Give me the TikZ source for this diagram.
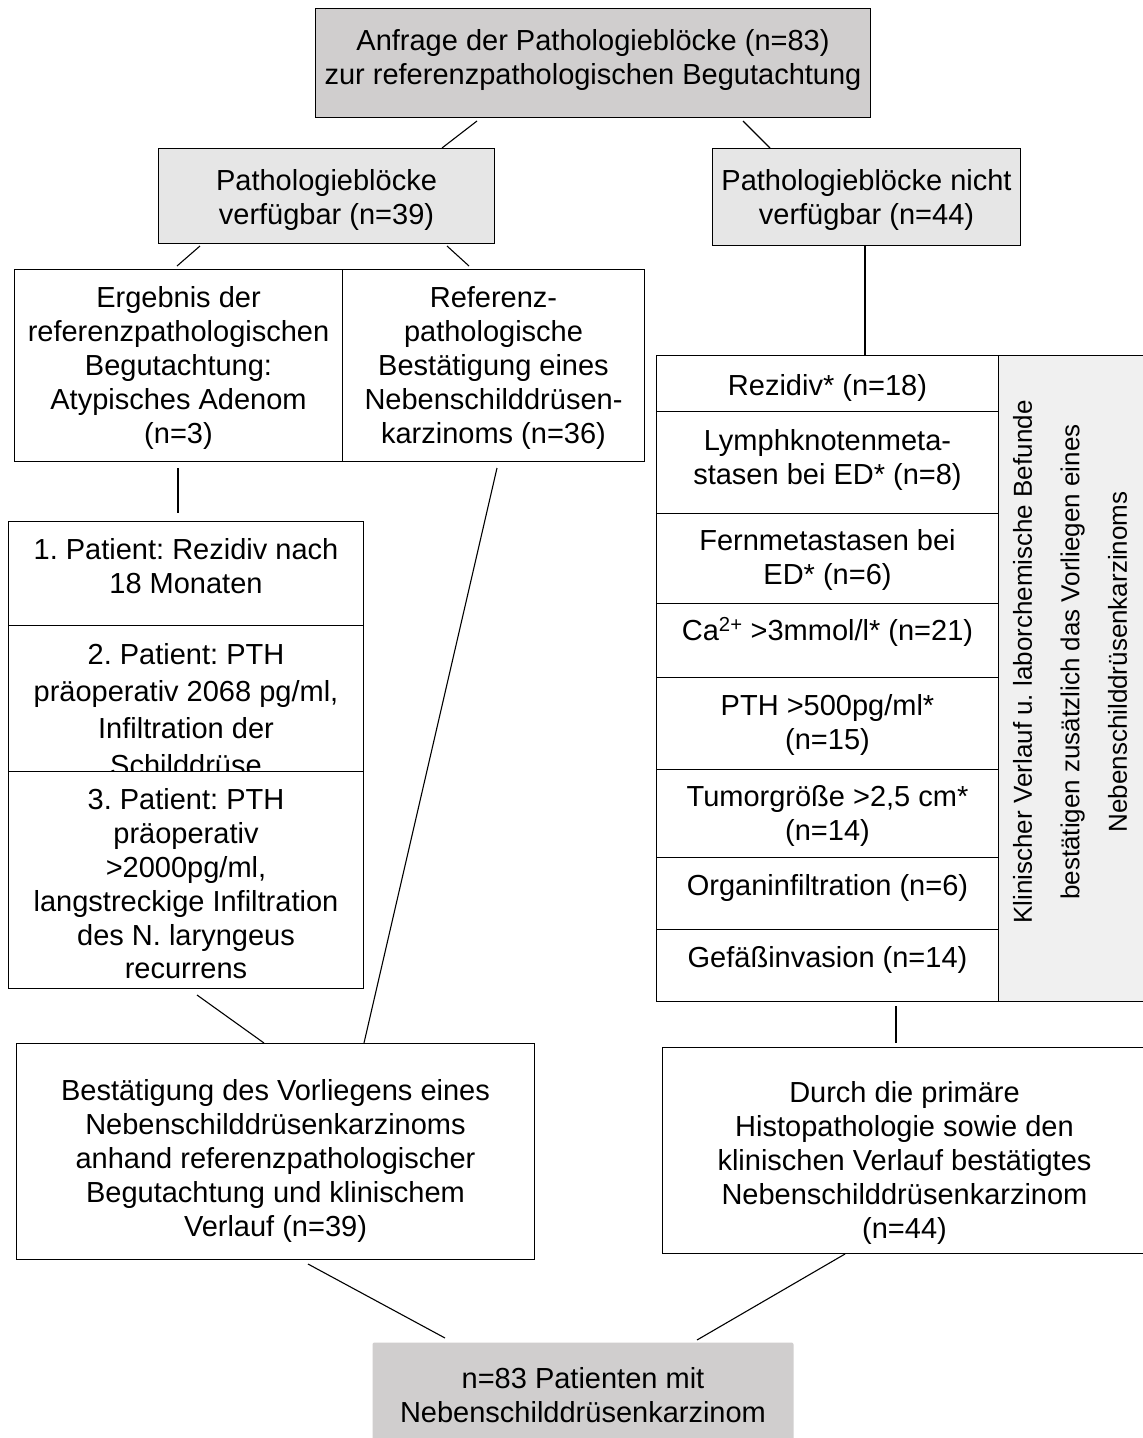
\documentclass[tikz,border=0pt]{standalone}
\usepackage{fontspec}
\setmainfont{Liberation Sans}
\usetikzlibrary{calc}
\frenchspacing
\definecolor{gA}{HTML}{D0CECE}
\definecolor{gB}{HTML}{E6E6E6}
\definecolor{gC}{HTML}{F0F0F0}
\newcommand\fsz{\fontsize{29}{33.8}\selectfont}
\newcommand\tbx[4]{\parbox[c][#2][t]{#1}{\centering\vspace*{#3}\strut#4\par}}
\begin{document}
\begin{tikzpicture}[x=1pt,y=-1pt,
  box/.style={draw=black,line width=1pt,inner sep=0pt,anchor=north west,font=\fsz},
  conn/.style={line width=1.1pt}]
\useasboundingbox (0,0) rectangle (1143,1438);
\fill[white] (0,0) rectangle (1143,1438);
\clip (0,0) rectangle (1143,1438);

% top level
\node[box,fill=gA] (top) at (315,8) {\tbx{555pt}{109pt}{18.8pt}{Anfrage der Pathologieblöcke (n=83)\\zur referenzpathologischen Begutachtung}};
\node[box,fill=gB] (lg) at (158,148) {\tbx{336pt}{95pt}{18.8pt}{Pathologieblöcke\\verfügbar (n=39)}};
\node[box,fill=gB] (rg) at (712,148) {\tbx{308pt}{97pt}{18.8pt}{Pathologieblöcke nicht\\verfügbar (n=44)}};

% second level
\node[box] (erg) at (14,269) {\tbx{328pt}{192pt}{14.8pt}{Ergebnis der\\referenzpathologischen\\Begutachtung:\\Atypisches Adenom\\(n=3)}};
\node[box] (ref) at (342,269) {\tbx{302pt}{192pt}{14.8pt}{Referenz-\\pathologische\\Bestätigung eines\\Nebenschilddrüsen-\\karzinoms (n=36)}};

% right table
\node[box,minimum width=490pt,minimum height=646pt] (tb) at (656,355) {};
\node[box,fill=gC,minimum width=148pt,minimum height=646pt] (rc) at (998,355) {};
\node[rotate=90,align=center,inner sep=0pt,font=\fontsize{26}{47.5}\selectfont] (vt) at (1070,662)
  {Klinischer Verlauf u. laborchemische Befunde\\bestätigen zusätzlich das Vorliegen eines\\Nebenschilddrüsenkarzinoms};
\node[box] (r1) at (656,355) {\tbx{342pt}{56pt}{16.8pt}{Rezidiv* (n=18)}};
\node[box] (r2) at (656,411) {\tbx{342pt}{102pt}{15.8pt}{Lymphknotenmeta-\\stasen bei ED* (n=8)}};
\node[box] (r3) at (656,513) {\tbx{342pt}{90pt}{13.8pt}{Fernmetastasen bei\\ED* (n=6)}};
\node[box] (r4) at (656,603) {\tbx{342pt}{74pt}{13.8pt}{Ca\textsuperscript{2+} >3mmol/l* (n=21)}};
\node[box] (r5) at (656,677) {\tbx{342pt}{92pt}{14.8pt}{PTH >500pg/ml*\\(n=15)}};
\node[box] (r6) at (656,769) {\tbx{342pt}{88pt}{13.8pt}{Tumorgröße >2,5 cm*\\(n=14)}};
\node[box] (r7) at (656,857) {\tbx{342pt}{72pt}{14.8pt}{Organinfiltration (n=6)}};
\node[box] (r8) at (656,929) {\tbx{342pt}{72pt}{14.8pt}{Gefäßinvasion (n=14)}};

% patient stack
\node[box] (p1) at (8,521) {\tbx{355pt}{104pt}{14.8pt}{1. Patient: Rezidiv nach\\18 Monaten}};
\node[box,font=\fontsize{29}{37}\selectfont] (p2) at (8,625) {\tbx{355pt}{146pt}{12.6pt}{2. Patient: PTH\\präoperativ 2068 pg/ml,\\Infiltration der\\Schilddrüse}};
\node[box,fill=white] (p3) at (8,771) {\tbx{355pt}{217pt}{14.8pt}{3. Patient: PTH\\präoperativ\\>2000pg/ml,\\langstreckige Infiltration\\des N. laryngeus\\recurrens}};

% bottom level
\node[box] (bl) at (16,1043) {\tbx{518pt}{216pt}{33.8pt}{Bestätigung des Vorliegens eines\\Nebenschilddrüsenkarzinoms\\anhand referenzpathologischer\\Begutachtung und klinischem\\Verlauf (n=39)}};
\node[box] (br) at (662,1047) {\tbx{484pt}{206pt}{31.8pt}{Durch die primäre\\Histopathologie sowie den\\klinischen Verlauf bestätigtes\\Nebenschilddrüsenkarzinom\\(n=44)}};
\node[box,draw=none,fill=gA,rounded corners=2pt] (fin) at (372,1342) {\tbx{421pt}{110pt}{22.8pt}{n=83 Patienten mit\\Nebenschilddrüsenkarzinom}};

% connectors
\draw[conn] ($(top.south west)+(162,3)$) -- ($(lg.north west)+(284,0)$);
\draw[conn] ($(top.south west)+(428,3)$) -- ($(rg.north west)+(58,0)$);
\draw[conn] ($(lg.south west)+(42,2)$) -- ($(erg.north west)+(163,-3)$);
\draw[conn] ($(lg.south west)+(289,2)$) -- ($(ref.north west)+(127,-3)$);
\draw[conn] ($(rg.south west)+(153,0)$) -- ($(tb.north west)+(209,0)$);
\draw[conn] ($(erg.south west)+(164,6)$) -- ($(p1.north west)+(170,-8)$);
\draw[conn] ($(p3.south west)+(189,6)$) -- ($(bl.north west)+(248,0)$);
\draw[conn] ($(ref.south west)+(155,6)$) -- ($(bl.north west)+(348,0)$);
\draw[conn] ($(tb.south west)+(240,4)$) -- ($(br.north west)+(234,-4)$);
\draw[conn] ($(bl.south west)+(292,4)$) -- ($(fin.north west)+(73,-4)$);
\draw[conn] ($(br.south west)+(183,0)$) -- ($(fin.north west)+(325,-2)$);
\end{tikzpicture}
\end{document}
